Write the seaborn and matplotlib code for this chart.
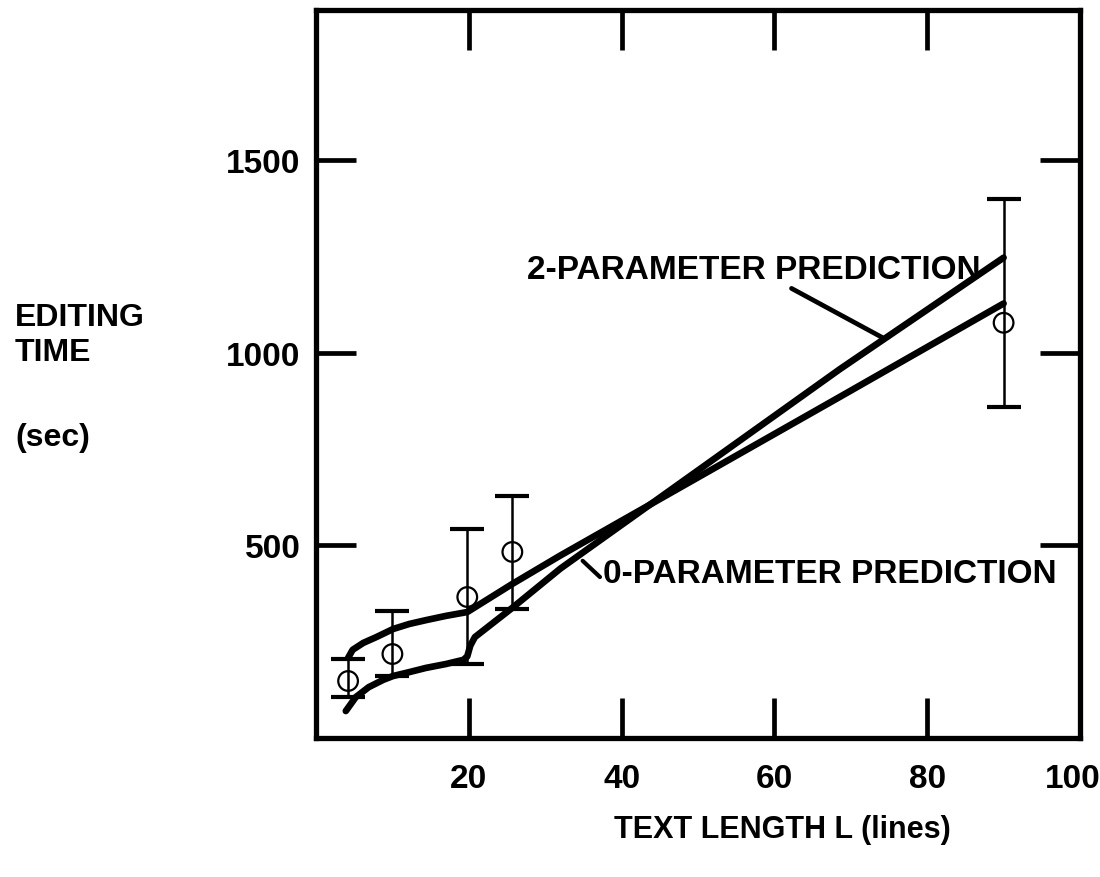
import matplotlib
matplotlib.use("Agg")
import matplotlib.pyplot as plt
import matplotlib.transforms as mtransforms
import pandas as pd
import seaborn as sns

# Observed editing times: mean and range for each text length (lines)
text_length = [4.2, 10, 19.8, 25.7, 90]
time_mean = [148, 218, 366, 483, 1078]
time_high = [205, 330, 543, 629, 1400]
time_low = [106, 161, 192, 335, 860]

# 2-parameter prediction curve
two_param_L = [3.9, 5.2, 6.9, 8.8, 10.1, 12.2, 14.4, 17.0, 19.3, 19.8, 20.2,
               20.8, 25.7, 32.0, 68.6, 90]
two_param_T = [70, 106, 132, 151, 161, 171, 182, 192, 203, 212, 240,
               262, 338, 440, 958, 1247]

# 0-parameter prediction curve
zero_param_L = [4.2, 4.8, 6.2, 7.9, 10.1, 12.2, 14.4, 17.0, 19.8, 25.7, 32.0,
                68.6, 90]
zero_param_T = [208, 229, 247, 262, 283, 296, 306, 317, 327, 400, 474,
                886, 1128]

x_ticks = [20, 40, 60, 80, 100]
y_ticks = [500, 1000, 1500]

sns.set_theme(style="white")
plt.rcParams["font.family"] = ["Liberation Sans", "DejaVu Sans"]
plt.rcParams["font.weight"] = "bold"
for key in ("text.color", "axes.labelcolor", "xtick.color", "ytick.color",
            "axes.edgecolor"):
    plt.rcParams[key] = "black"

fig = plt.figure(figsize=(11, 8.78), dpi=100)
ax = fig.add_axes([316 / 1100, 1 - 739 / 878, 764 / 1100, 728 / 878])

two_df = pd.DataFrame({"L": two_param_L, "T": two_param_T})
zero_df = pd.DataFrame({"L": zero_param_L, "T": zero_param_T})
obs_df = pd.DataFrame({"L": text_length, "T": time_mean,
                       "hi": time_high, "lo": time_low})

sns.lineplot(data=two_df, x="L", y="T", sort=False, estimator=None,
             color="black", lw=4.8, ax=ax, solid_capstyle="round",
             solid_joinstyle="round")
sns.lineplot(data=zero_df, x="L", y="T", sort=False, estimator=None,
             color="black", lw=4.8, ax=ax, solid_capstyle="round",
             solid_joinstyle="round")

# range bars
ax.errorbar(obs_df["L"], obs_df["T"],
            yerr=[obs_df["T"] - obs_df["lo"], obs_df["hi"] - obs_df["T"]],
            fmt="none", ecolor="black", elinewidth=1.8, capsize=12,
            capthick=3, zorder=3)
sns.scatterplot(data=obs_df, x="L", y="T", marker="o", s=200,
                facecolor="none", edgecolor="black", linewidth=1.6,
                ax=ax, zorder=4)

ax.set_xlim(0, 100)
ax.set_ylim(0, 1890)
ax.set_xticks(x_ticks)
ax.set_xticklabels([str(v) for v in x_ticks])
ax.set_yticks(y_ticks)
ax.set_yticklabels([str(v) for v in y_ticks])
ax.tick_params(axis="both", direction="in", length=29, width=3.4,
               color="black", top=True, bottom=True, left=True, right=True)
ax.tick_params(axis="x", pad=18, labelsize=24)
ax.tick_params(axis="y", pad=11, labelsize=24)
for s in ax.spines.values():
    s.set_linewidth(3.8)
    s.set_color("black")
ax.set_xlabel("")
ax.set_ylabel("")

# keep the last x label inside the figure edge
last = ax.get_xticklabels()[-1]
last.set_transform(last.get_transform() +
                   mtransforms.ScaledTranslation(-7 / 100, 0, fig.dpi_scale_trans))

ax.annotate("2-PARAMETER PREDICTION", xy=(74.1, 1040), xytext=(27.6, 1216),
            fontsize=24, fontweight="bold", va="center", ha="left",
            arrowprops=dict(arrowstyle="-", lw=3.4, color="black",
                            shrinkA=0, shrinkB=0, relpos=(0.57, 0.0)))
ax.annotate("0-PARAMETER PREDICTION", xy=(34.9, 460), xytext=(37.6, 426),
            fontsize=24, fontweight="bold", va="center", ha="left",
            arrowprops=dict(arrowstyle="-", lw=3.0, color="black",
                            shrinkA=0, shrinkB=0, relpos=(0.0, 0.3)))

fig.text(15 / 1100, 1 - 318 / 878, "EDITING", fontsize=23,
         fontweight="bold", va="center", ha="left")
fig.text(15 / 1100, 1 - 353 / 878, "TIME", fontsize=23,
         fontweight="bold", va="center", ha="left")
fig.text(15 / 1100, 1 - 438 / 878, "(sec)", fontsize=23,
         fontweight="bold", va="center", ha="left")
fig.text(782 / 1100, 1 - 830 / 878, "TEXT LENGTH L (lines)", fontsize=22,
         fontweight="bold", va="center", ha="center")

fig.savefig("out.png", dpi=100, facecolor="white")
